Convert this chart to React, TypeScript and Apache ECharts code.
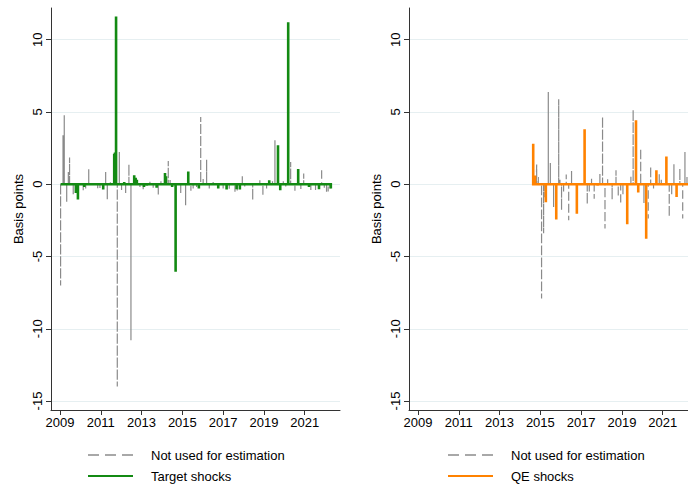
import React, { useEffect, useRef } from "react";
import * as echarts from "echarts";

// ---------- data ----------
const yearTicks = [2009, 2011, 2013, 2015, 2017, 2019, 2021];
const bpTicks = [-15, -10, -5, 0, 5, 10];

// Left panel: target shocks (decimal year, basis points)
const targetSpan = [2009.03, 2022.33];
const targetDates = [
  2009.78, 2009.88, 2010.19, 2011.12, 2011.66, 2011.7, 2011.75, 2012.15, 2012.64,
  2012.71, 2012.77, 2013.12, 2013.26, 2013.74, 2014.15, 2014.2, 2014.5, 2014.67,
  2015.29, 2015.81, 2016.76, 2017.17, 2017.66, 2017.82, 2019.26, 2019.69, 2019.8,
  2020.19, 2020.68, 2021.21, 2021.7, 2022.28,
];
const targetValues = [
  -0.6, -1.06, -0.2, -0.37, 2.1, 2.2, 11.6, 0.16, 0.62,
  0.45, 0.3, -0.2, -0.1, -0.25, 0.78, 0.55, -0.2, -6.06,
  0.88, -0.3, -0.3, -0.37, -0.35, -0.37, 0.28, 2.7, -0.41,
  11.2, 1.06, -0.2, -0.35, -0.3,
];

// Left panel: not used for estimation
const otherLeftSpan = [2009.03, 2022.3];
const otherLeftDates = [
  2009.03, 2009.15, 2009.21, 2009.33, 2009.41, 2009.47, 2009.65, 2010.14, 2010.26,
  2010.41, 2010.68, 2010.85, 2010.96, 2011.24, 2011.32, 2011.47, 2011.81, 2011.91,
  2012.02, 2012.22, 2012.38, 2012.48, 2012.92, 2013.08, 2013.41, 2013.57, 2013.82,
  2013.95, 2014.31, 2014.4, 2014.92, 2015.16, 2015.42, 2015.53, 2015.7, 2015.9,
  2016.02, 2016.19, 2016.32, 2016.51, 2017.0, 2017.3, 2017.58, 2017.69, 2017.94,
  2018.06, 2018.45, 2018.8, 2018.95, 2019.13, 2019.42, 2019.54, 2019.95, 2020.07,
  2020.31, 2020.52, 2020.81, 2020.95, 2021.3, 2021.53, 2021.83, 2021.96, 2022.07,
  2022.15, 2022.24,
];
const otherLeftValues = [
  -7.0, 3.39, 4.77, -1.22, 0.85, 1.84, -0.76, -0.41, -0.3,
  1.04, 0.1, -0.35, -0.3, 0.85, -1.04, 0.2, -14.0, 2.23,
  -0.4, -0.6, 1.38, -10.8, -0.2, -0.35, 0.2, -0.25, -0.72,
  0.2, 1.61, 0.3, -0.6, -1.45, -0.45, -0.3, -0.2, 4.65,
  0.46, 1.7, -0.3, 0.15, -0.3, -0.4, -0.53, -0.5, 0.55,
  -0.2, -1.1, 0.28, -0.83, -0.3, 0.2, 3.04, 0.2, -0.2,
  1.54, -0.46, -0.35, 0.74, -0.4, -0.4, 1.08, -0.35, -0.53,
  -0.5, -0.3,
];

// Right panel: QE shocks
const qeSpan = [2014.65, 2022.33];
const qeDates = [
  2014.65, 2014.74, 2015.27, 2015.78, 2016.79, 2017.17, 2017.81, 2019.26, 2019.69,
  2019.8, 2020.19, 2020.69, 2021.18, 2021.68,
];
const qeValues = [
  2.8, 0.6, -1.24, -2.44, -2.05, 3.8, -0.1, -2.77, 4.43,
  -0.57, -3.78, 0.96, 1.92, -0.88,
];

// Right panel: not used for estimation
const otherRightSpan = [2014.8, 2022.3];
const otherRightDates = [
  2014.82, 2014.9, 2015.06, 2015.16, 2015.23, 2015.39, 2015.49, 2015.65, 2015.9,
  2015.96, 2016.04, 2016.14, 2016.27, 2016.39, 2016.53, 2017.3, 2017.4, 2017.51,
  2017.64, 2017.77, 2017.92, 2018.05, 2018.17, 2018.3, 2018.52, 2018.71, 2018.82,
  2018.94, 2019.05, 2019.44, 2019.55, 2019.92, 2020.08, 2020.29, 2020.41, 2020.55,
  2020.83, 2020.93, 2021.32, 2021.44, 2021.55, 2021.84, 2021.98, 2022.09, 2022.19,
];
const otherRightValues = [
  1.36, 0.5, -7.9, -3.4, -0.9, 6.38, 1.47, -1.57, 5.88,
  0.3, -1.8, -0.5, 0.67, -2.5, 0.92, -1.38, -0.5, 0.37,
  -1.0, -0.1, 0.7, 4.68, -3.07, 0.35, -1.06, 0.97, -0.88,
  -1.4, -0.7, 0.62, 5.16, 2.47, -1.3, -2.37, 1.24, -0.3,
  0.74, 0.3, -2.26, -0.76, 1.38, 1.08, -2.37, 2.23, 0.5,
];

const legendLeft = ["Not used for estimation", "Target shocks"];
const legendRight = ["Not used for estimation", "QE shocks"];

// ---------- helpers ----------
function spikePath(span: number[], dates: number[], values: number[]) {
  const pts: number[][] = [[span[0], 0]];
  dates.forEach((d, i) => {
    pts.push([d, 0], [d, values[i]], [d, 0]);
  });
  pts.push([span[1], 0]);
  return pts;
}

const FONT = '"Liberation Sans", Arial, Helvetica, sans-serif';
const GREEN = "#138a13";
const ORANGE = "#ff8200";
const GREY = "#8a8a8a";
const GRIDC = "#e6eff1";
const AXISC = "#333333";

export default function App() {
  const ref = useRef<HTMLDivElement>(null);
  useEffect(() => {
    if (!ref.current) return;
    const chart = echarts.init(ref.current, undefined, { renderer: "svg" });

    const xAxisBase = (gridIndex: number, max: number) => ({
      type: "value",
      gridIndex,
      min: 2008.56,
      max,
      axisLine: { show: true, onZero: false, lineStyle: { color: AXISC, width: 1 } },
      axisTick: { show: true, length: 5, customValues: yearTicks, lineStyle: { color: AXISC } },
      axisLabel: {
        customValues: yearTicks,
        color: "#000",
        fontSize: 13,
        fontFamily: FONT,
        margin: 6,
        formatter: (v: number) => String(Math.round(v)),
      },
      splitLine: { show: false },
    });
    const yAxisBase = (gridIndex: number) => ({
      type: "value",
      gridIndex,
      min: -15.62,
      max: 12.19,
      name: "Basis points",
      nameLocation: "middle",
      nameRotate: 90,
      nameGap: 26,
      nameTextStyle: { color: "#000", fontSize: 13, fontFamily: FONT },
      axisLine: { show: true, onZero: false, lineStyle: { color: AXISC, width: 1 } },
      axisTick: { show: true, length: 5, customValues: bpTicks, lineStyle: { color: AXISC } },
      axisLabel: {
        customValues: bpTicks,
        rotate: 90,
        color: "#000",
        fontSize: 13,
        fontFamily: FONT,
        margin: 7,
        formatter: (v: number) => String(Math.round(v)),
      },
      splitLine: { show: false },
    });

    const gridLines = (idx: number) => ({
      type: "line",
      xAxisIndex: idx,
      yAxisIndex: idx,
      data: [],
      z: 0,
      silent: true,
      markLine: {
        silent: true,
        z: 0,
        zlevel: 0,
        symbol: "none",
        label: { show: false },
        lineStyle: { color: GRIDC, width: 1, type: "solid" },
        data: bpTicks.map((v) => ({ yAxis: v })),
      },
    });

    const lineSeries = (idx: number, data: number[][], color: string, width: number, dashed: boolean, z: number) => ({
      type: "line",
      xAxisIndex: idx,
      yAxisIndex: idx,
      data,
      showSymbol: false,
      symbol: "none",
      z,
      lineStyle: { color, width, type: dashed ? [8, 4] : "solid", join: "miter", cap: "butt" },
    });

    const legendItems = (x0: number, labels: string[], color: string) => [
      {
        type: "line",
        shape: { x1: x0, y1: 455, x2: x0 + 45, y2: 455 },
        style: { stroke: "#a8a8a8", lineWidth: 2, lineDash: [11, 6] },
      },
      {
        type: "text",
        x: x0 + 63,
        y: 455,
        style: { text: labels[0], fill: "#000", fontSize: 13, fontFamily: FONT, textVerticalAlign: "middle", verticalAlign: "middle" },
      },
      {
        type: "line",
        shape: { x1: x0, y1: 476, x2: x0 + 45, y2: 476 },
        style: { stroke: color, lineWidth: 2 },
      },
      {
        type: "text",
        x: x0 + 63,
        y: 476,
        style: { text: labels[1], fill: "#000", fontSize: 13, fontFamily: FONT, textVerticalAlign: "middle", verticalAlign: "middle" },
      },
    ];

    chart.setOption({
      animation: false,
      backgroundColor: "#ffffff",
      textStyle: { fontFamily: FONT },
      grid: [
        { left: 51, top: 8, width: 289, height: 402 },
        { left: 409, top: 8, width: 279, height: 402 },
      ],
      xAxis: [xAxisBase(0, 2022.73), xAxisBase(1, 2022.24)],
      yAxis: [yAxisBase(0), yAxisBase(1)],
      series: [
        gridLines(0),
        gridLines(1),
        lineSeries(0, spikePath(otherLeftSpan, otherLeftDates, otherLeftValues), GREY, 1.2, true, 6),
        lineSeries(0, spikePath(targetSpan, targetDates, targetValues), GREEN, 2.6, false, 7),
        lineSeries(1, spikePath(otherRightSpan, otherRightDates, otherRightValues), GREY, 1.2, true, 6),
        lineSeries(1, spikePath(qeSpan, qeDates, qeValues), ORANGE, 2.6, false, 7),
      ],
      graphic: [...legendItems(88, legendLeft, GREEN), ...legendItems(448, legendRight, ORANGE)],
    });
    return () => chart.dispose();
  }, []);
  return (
    <div
      ref={ref}
      style={{ position: "absolute", left: 0, top: 0, width: 688, height: 484, background: "#fff" }}
    />
  );
}
